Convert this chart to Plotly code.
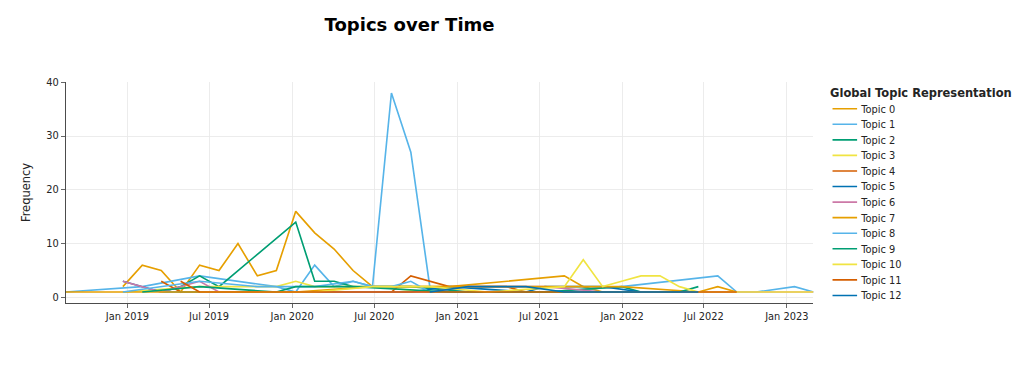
import plotly.graph_objects as go

N = None

# Bin timestamps (left edges of the time bins)
timestamps = [
    "2018-08-17", "2018-09-28", "2018-11-10", "2018-12-22", "2019-02-03",
    "2019-03-17", "2019-04-29", "2019-06-10", "2019-07-23", "2019-09-03",
    "2019-10-16", "2019-11-27", "2020-01-09", "2020-02-20", "2020-04-03",
    "2020-05-15", "2020-06-27", "2020-08-08", "2020-09-20", "2020-11-01",
    "2020-12-14", "2021-01-25", "2021-03-09", "2021-04-20", "2021-06-02",
    "2021-07-14", "2021-08-26", "2021-10-07", "2021-11-19", "2021-12-31",
    "2022-02-12", "2022-03-26", "2022-05-08", "2022-06-19", "2022-08-01",
    "2022-09-12", "2022-10-25", "2022-12-06", "2023-01-18", "2023-03-01",
]

# Frequencies per bin (None = topic absent in that bin)
topic_0 = [N, N, N, 2, 6, 5, 1, 6, 5, 10,
           4, 5, 16, 12, 9, 5, 2, N, N, N,
           2, N, N, N, N, N, 4, 2, 1, N,
           N, N, N, N, N, N, N, N, N, N]
topic_1 = [1, N, N, N, 2, N, N, 4, N, 3,
           N, 2, 1, 6, 2, 3, 2, 38, 27, 2,
           N, 1, N, N, N, 1, N, N, N, 2,
           N, N, N, N, 4, 1, 1, N, 2, 1]
topic_2 = [N, N, N, N, N, 1, 2, 4, 2, N,
           N, N, 14, 3, 3, 2, 2, N, 2, N,
           N, 1, N, N, N, 1, N, N, N, 2,
           1, N, N, N, N, N, N, N, N, N]
topic_3 = [N, N, N, 1, N, N, N, 2, N, 2,
           N, 2, 3, 2, N, N, 2, N, N, 1,
           N, N, N, 1, N, N, 1, N, N, N,
           N, N, N, N, N, N, N, N, N, N]
topic_4 = [N, N, N, N, N, 3, 1, N, 1, N,
           N, N, 1, N, N, N, 1, 1, 4, 3,
           2, N, N, 2, 1, N, N, N, N, N,
           N, N, N, N, N, N, N, N, N, N]
topic_5 = [N, N, N, 3, N, 1, N, N, N, 1,
           N, N, N, 1, N, N, N, 1, 1, N,
           2, N, N, N, 1, 2, N, N, 2, N,
           1, N, N, N, N, N, N, N, N, N]
topic_6 = [N, N, N, 3, N, 1, N, 3, 1, N,
           N, N, 1, N, N, N, N, N, N, 1,
           N, 2, N, N, N, 2, N, N, 1, N,
           N, N, N, N, N, N, N, N, 1, 1]
topic_7 = [1, N, N, 1, N, N, N, N, 1, N,
           N, N, 1, N, N, N, 2, N, N, 2,
           N, N, N, N, 2, N, N, N, N, 2,
           N, N, N, 1, 2, 1, N, N, N, N]
topic_8 = [N, N, N, 1, N, N, N, 3, N, N,
           2, N, N, 2, N, 3, 2, 2, 3, 1,
           N, N, N, N, 1, N, N, N, N, N,
           N, N, N, N, N, N, N, N, N, N]
topic_9 = [N, N, N, N, 1, N, N, 2, N, N,
           N, 1, 2, N, N, 2, N, N, N, N,
           1, N, N, N, N, N, 1, N, N, N,
           N, N, 1, 2, N, N, N, N, N, N]
topic_10 = [N, N, N, N, N, N, N, 1, N, N,
            N, N, N, 1, N, N, 2, N, N, 2,
            N, N, 1, N, N, N, 2, 7, 2, 3,
            4, 4, 2, 1, N, N, 1, N, 1, 1]
topic_11 = [N, N, N, N, N, N, 3, 1, N, N,
            1, N, N, 1, N, N, N, 1, N, N,
            N, N, 1, N, N, N, N, N, N, N,
            N, N, N, N, 1, 1, N, N, N, N]
topic_12 = [N, N, N, N, N, N, N, N, N, N,
            N, N, N, N, N, N, N, N, N, 1,
            N, 2, N, N, 2, N, 1, 1, N, N,
            N, N, N, 1, N, N, N, N, N, N]

topic_names = [f"Topic {i}" for i in range(13)]
topic_values = [topic_0, topic_1, topic_2, topic_3, topic_4, topic_5, topic_6,
                topic_7, topic_8, topic_9, topic_10, topic_11, topic_12]
palette = ["#E69F00", "#56B4E9", "#009E73", "#F0E442", "#D55E00", "#0072B2", "#CC79A7"]

fig = go.Figure()
for i, (name, vals) in enumerate(zip(topic_names, topic_values)):
    xs = [t for t, v in zip(timestamps, vals) if v is not None]
    ys = [v for v in vals if v is not None]
    fig.add_trace(go.Scatter(
        x=xs, y=ys, mode="lines", name=name,
        line=dict(color=palette[i % len(palette)]),
        hoverinfo="text",
    ))

# Figure laid out at 1250x450 and displayed scaled to 1024x369
fig.update_layout(
    template="simple_white",
    width=1250, height=450,
    font=dict(family="DejaVu Sans"),
    title=dict(text="<b>Topics over Time</b>", x=0.40, xanchor="center",
               y=0.95, yanchor="top", font=dict(size=22, color="black")),
    yaxis_title="Frequency",
    legend=dict(title=dict(text="<b>Global Topic Representation</b>"),
                maxheight=440),
    hovermode="closest",
)
fig.update_xaxes(showgrid=True)
fig.update_yaxes(showgrid=True)

scale_js = """
var gd = document.getElementById('{plot_id}');
document.documentElement.style.overflow = 'hidden';
document.body.style.margin = '0';
document.body.style.overflow = 'hidden';
gd.style.transform = 'scale(0.8192)';
gd.style.transformOrigin = '0 0';
"""

fig.write_html("out.html", post_script=scale_js,
               config={"displayModeBar": False})
